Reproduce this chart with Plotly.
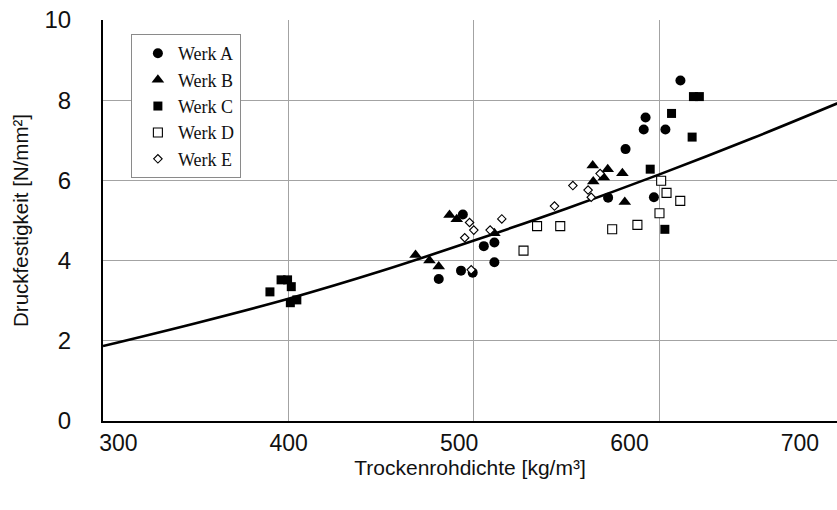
import plotly.graph_objects as go

# Measured compressive strength vs. dry density for five plants
werk_a_x = [481.0, 493.0, 494.0, 499.3, 505.3, 511.0, 511.0, 572.3, 581.7, 591.5, 592.5, 597.0, 603.2, 611.3]
werk_a_y = [3.54, 3.75, 5.15, 3.70, 4.36, 4.45, 3.96, 5.57, 6.78, 7.27, 7.57, 5.58, 7.27, 8.49]

werk_b_x = [468.5, 476.0, 481.0, 486.8, 490.7, 511.0, 564.0, 564.3, 570.0, 572.1, 580.0, 581.3]
werk_b_y = [4.14, 4.00, 3.85, 5.14, 5.03, 4.68, 6.37, 5.97, 6.07, 6.28, 6.18, 5.46]

werk_c_x = [390.0, 396.0, 399.5, 401.5, 401.0, 404.5, 595.0, 602.9, 606.5, 617.6, 618.3, 621.5]
werk_c_y = [3.22, 3.52, 3.52, 3.35, 2.95, 3.02, 6.28, 4.78, 7.67, 7.08, 8.09, 8.09]

werk_d_x = [526.7, 534.0, 546.5, 574.5, 588.1, 600.0, 600.9, 603.8, 611.2]
werk_d_y = [4.25, 4.86, 4.86, 4.78, 4.89, 5.18, 5.99, 5.69, 5.49]

werk_e_x = [495.0, 497.6, 499.9, 498.5, 508.7, 515.0, 543.4, 553.3, 561.5, 563.2, 568.0]
werk_e_y = [4.57, 4.95, 4.76, 3.77, 4.76, 5.04, 5.36, 5.87, 5.76, 5.58, 6.17]

# Regression curve through the whole data set
fit_x = [300, 350, 400, 450, 500, 550, 600, 650, 700]
fit_y = [1.87, 2.44, 3.05, 3.74, 4.50, 5.30, 6.15, 7.05, 8.00]

# Printed scale labels
density_ticks = [300, 400, 500, 600, 700]
strength_ticks = [0, 2, 4, 6, 8, 10]

grid_color = "#a3a3a3"
sans = "Liberation Sans, Arial, sans-serif"
serif = "Liberation Serif, Times New Roman, serif"
ink = "#111111"

fig = go.Figure()

fig.add_trace(go.Scatter(
    x=fit_x, y=fit_y, mode="lines", line=dict(color="black", width=2.6, shape="spline"),
    showlegend=False, hoverinfo="skip",
))

series = [
    ("Werk A", werk_a_x, werk_a_y, dict(symbol="circle", size=10, color="black", line=dict(width=0))),
    ("Werk B", werk_b_x, werk_b_y, dict(symbol="triangle-up", size=11, color="black", line=dict(width=0))),
    ("Werk C", werk_c_x, werk_c_y, dict(symbol="square", size=9, color="black", line=dict(width=0))),
    ("Werk D", werk_d_x, werk_d_y, dict(symbol="square", size=9, color="white", line=dict(color="black", width=1.1))),
    ("Werk E", werk_e_x, werk_e_y, dict(symbol="diamond", size=6.5, color="white", line=dict(color="black", width=1.1))),
]
for name, xs, ys, marker in series:
    fig.add_trace(go.Scatter(x=xs, y=ys, mode="markers", name=name, marker=marker))

fig.update_layout(
    width=837, height=510,
    margin=dict(l=103, r=0, t=20, b=89),
    paper_bgcolor="white", plot_bgcolor="white",
    font=dict(family=sans, color=ink),
    xaxis=dict(
        range=[300, 695.7], tick0=300, dtick=100,
        showgrid=True, gridcolor=grid_color, gridwidth=1.2,
        showline=True, linecolor="black", linewidth=2,
        showticklabels=False, ticks="", zeroline=False,
    ),
    # label scale printed beneath the density axis
    xaxis2=dict(
        overlaying="x", anchor="y", side="bottom",
        range=[291.0, 721.8], tickmode="array", tickvals=density_ticks,
        ticktext=[str(v) for v in density_ticks],
        showgrid=False, showline=False, zeroline=False, ticks="",
        ticklabelstandoff=6,
        tickfont=dict(family=sans, size=23, color=ink),
        title=dict(text="Trockenrohdichte [kg/m³]", standoff=4,
                   font=dict(family=sans, size=21, color=ink)),
    ),
    yaxis=dict(
        range=[0, 10], tickmode="array", tickvals=strength_ticks,
        showgrid=True, gridcolor=grid_color, gridwidth=1.2,
        showline=True, linecolor="black", linewidth=2,
        ticks="", zeroline=False, ticklabelstandoff=25,
        tickfont=dict(family=sans, size=24, color=ink),
        title=dict(text="Druckfestigkeit [N/mm²]", standoff=10,
                   font=dict(family=sans, size=20.5, color=ink)),
    ),
    legend=dict(
        x=0.038, y=0.965, xanchor="left", yanchor="top",
        bgcolor="white", bordercolor="#8a8a8a", borderwidth=1,
        font=dict(family=serif, size=18, color=ink),
        indentation=6, tracegroupgap=0,
    ),
)

# empty trace bound to the label axis so it is rendered
fig.add_trace(go.Scatter(x=[None], y=[None], xaxis="x2", showlegend=False, hoverinfo="skip"))

fig.write_html("out.html")
